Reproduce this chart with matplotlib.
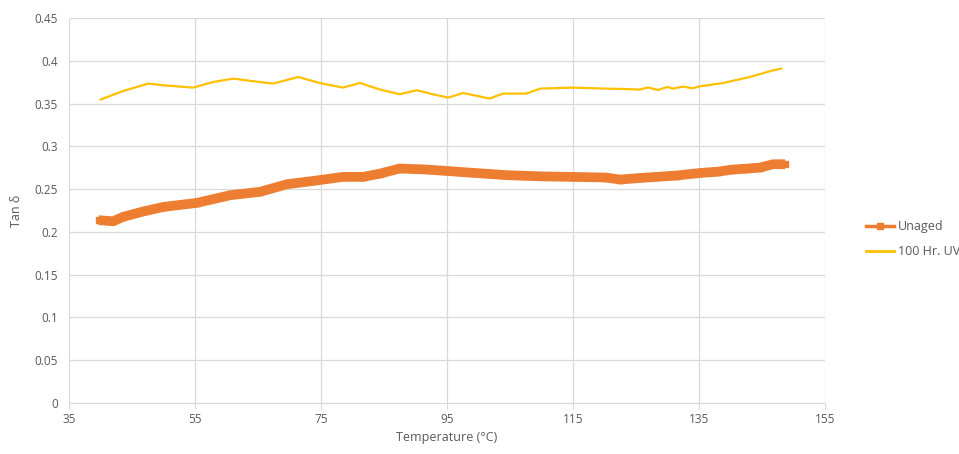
import matplotlib.pyplot as plt
from matplotlib.lines import Line2D

# Tan delta vs temperature
temp_unaged = [39.7, 42.0, 43.6, 46.8, 50.0, 55.3, 60.6, 65.3, 69.6, 73.8, 78.5,
               81.7, 84.4, 87.5, 91.8, 97.1, 104.5, 110.0, 115.0, 120.3, 122.5,
               125.5, 128.3, 131.5, 135.2, 138.0, 140.4, 142.5, 144.7, 146.8, 148.7]
tan_unaged = [0.2138, 0.2125, 0.2177, 0.2240, 0.2293, 0.2340, 0.2430, 0.2469, 0.2558, 0.2597, 0.2644,
              0.2644, 0.2683, 0.2742, 0.2730, 0.2702, 0.2664, 0.2650, 0.2644, 0.2636, 0.2613,
              0.2630, 0.2644, 0.2660, 0.2690, 0.2705, 0.2730, 0.2740, 0.2753, 0.2792, 0.2792]

temp_uv = [40.0, 43.6, 47.6, 50.0, 54.7, 57.9, 61.1, 64.3, 67.4, 71.4, 74.8,
           78.5, 81.2, 84.4, 87.5, 90.2, 92.8, 95.2, 97.6, 101.8, 103.9,
           107.6, 109.8, 115.0, 120.3, 123.0, 125.6, 127.0, 128.5, 130.0, 130.9,
           132.5, 134.0, 135.2, 138.9, 143.1, 146.8, 148.1]
tan_uv = [0.3548, 0.3649, 0.3735, 0.3715, 0.3688, 0.3754, 0.3793, 0.3762, 0.3735, 0.3812, 0.3742,
          0.3688, 0.3742, 0.3665, 0.3610, 0.3657, 0.3610, 0.3571, 0.3625, 0.3560, 0.3618,
          0.3618, 0.3676, 0.3688, 0.3676, 0.3672, 0.3665, 0.3690, 0.3660, 0.3695, 0.3676,
          0.3700, 0.3680, 0.3703, 0.3742, 0.3812, 0.3890, 0.3910]

x_ticks = [35, 55, 75, 95, 115, 135, 155]
y_ticks = [0, 0.05, 0.1, 0.15, 0.2, 0.25, 0.3, 0.35, 0.4, 0.45]

orange = '#ED7D31'
yellow = '#FFC000'
grey_txt = '#595959'

plt.rcParams['font.family'] = ['Open Sans', 'DejaVu Sans']

fig = plt.figure(figsize=(9.59, 4.54), dpi=100)
ax = fig.add_axes([0.072, 0.1123, 0.788, 0.8477])

ax.plot(temp_unaged, tan_unaged, color=orange, lw=7, marker='s', ms=5,
        solid_joinstyle='round', solid_capstyle='butt')
ax.plot(temp_uv, tan_uv, color=yellow, lw=1.6)

ax.set_xlim(35, 155)
ax.set_ylim(0, 0.45)
ax.set_xticks(x_ticks)
ax.set_yticks(y_ticks)
ax.set_xticklabels([str(t) for t in x_ticks])
ax.set_yticklabels(['0' if v == 0 else f'{v:g}' for v in y_ticks])
ax.grid(True, color='#d9d9d9', lw=0.9)
ax.set_axisbelow(True)
for s in ['top', 'right', 'left']:
    ax.spines[s].set_visible(False)
ax.spines['bottom'].set_color('#d9d9d9')
ax.tick_params(axis='both', colors=grey_txt, labelsize=8.5, length=4)
ax.tick_params(axis='x', color='#d9d9d9')
ax.tick_params(axis='y', length=0, pad=8)

ax.set_xlabel('Temperature (°C)', color=grey_txt, fontsize=9, labelpad=3)
ax.set_ylabel('Tan δ', color=grey_txt, fontsize=9, labelpad=8)

handles = [Line2D([], [], color=orange, lw=2.5, marker='s', ms=5),
           Line2D([], [], color=yellow, lw=2)]
fig.legend(handles, ['Unaged', '100 Hr. UV'], loc='upper left',
           bbox_to_anchor=(0.891, 0.54), frameon=False, fontsize=9,
           labelspacing=0.95, handlelength=2.3, handletextpad=0.25,
           labelcolor=grey_txt)

fig.savefig('out.png', dpi=100)
